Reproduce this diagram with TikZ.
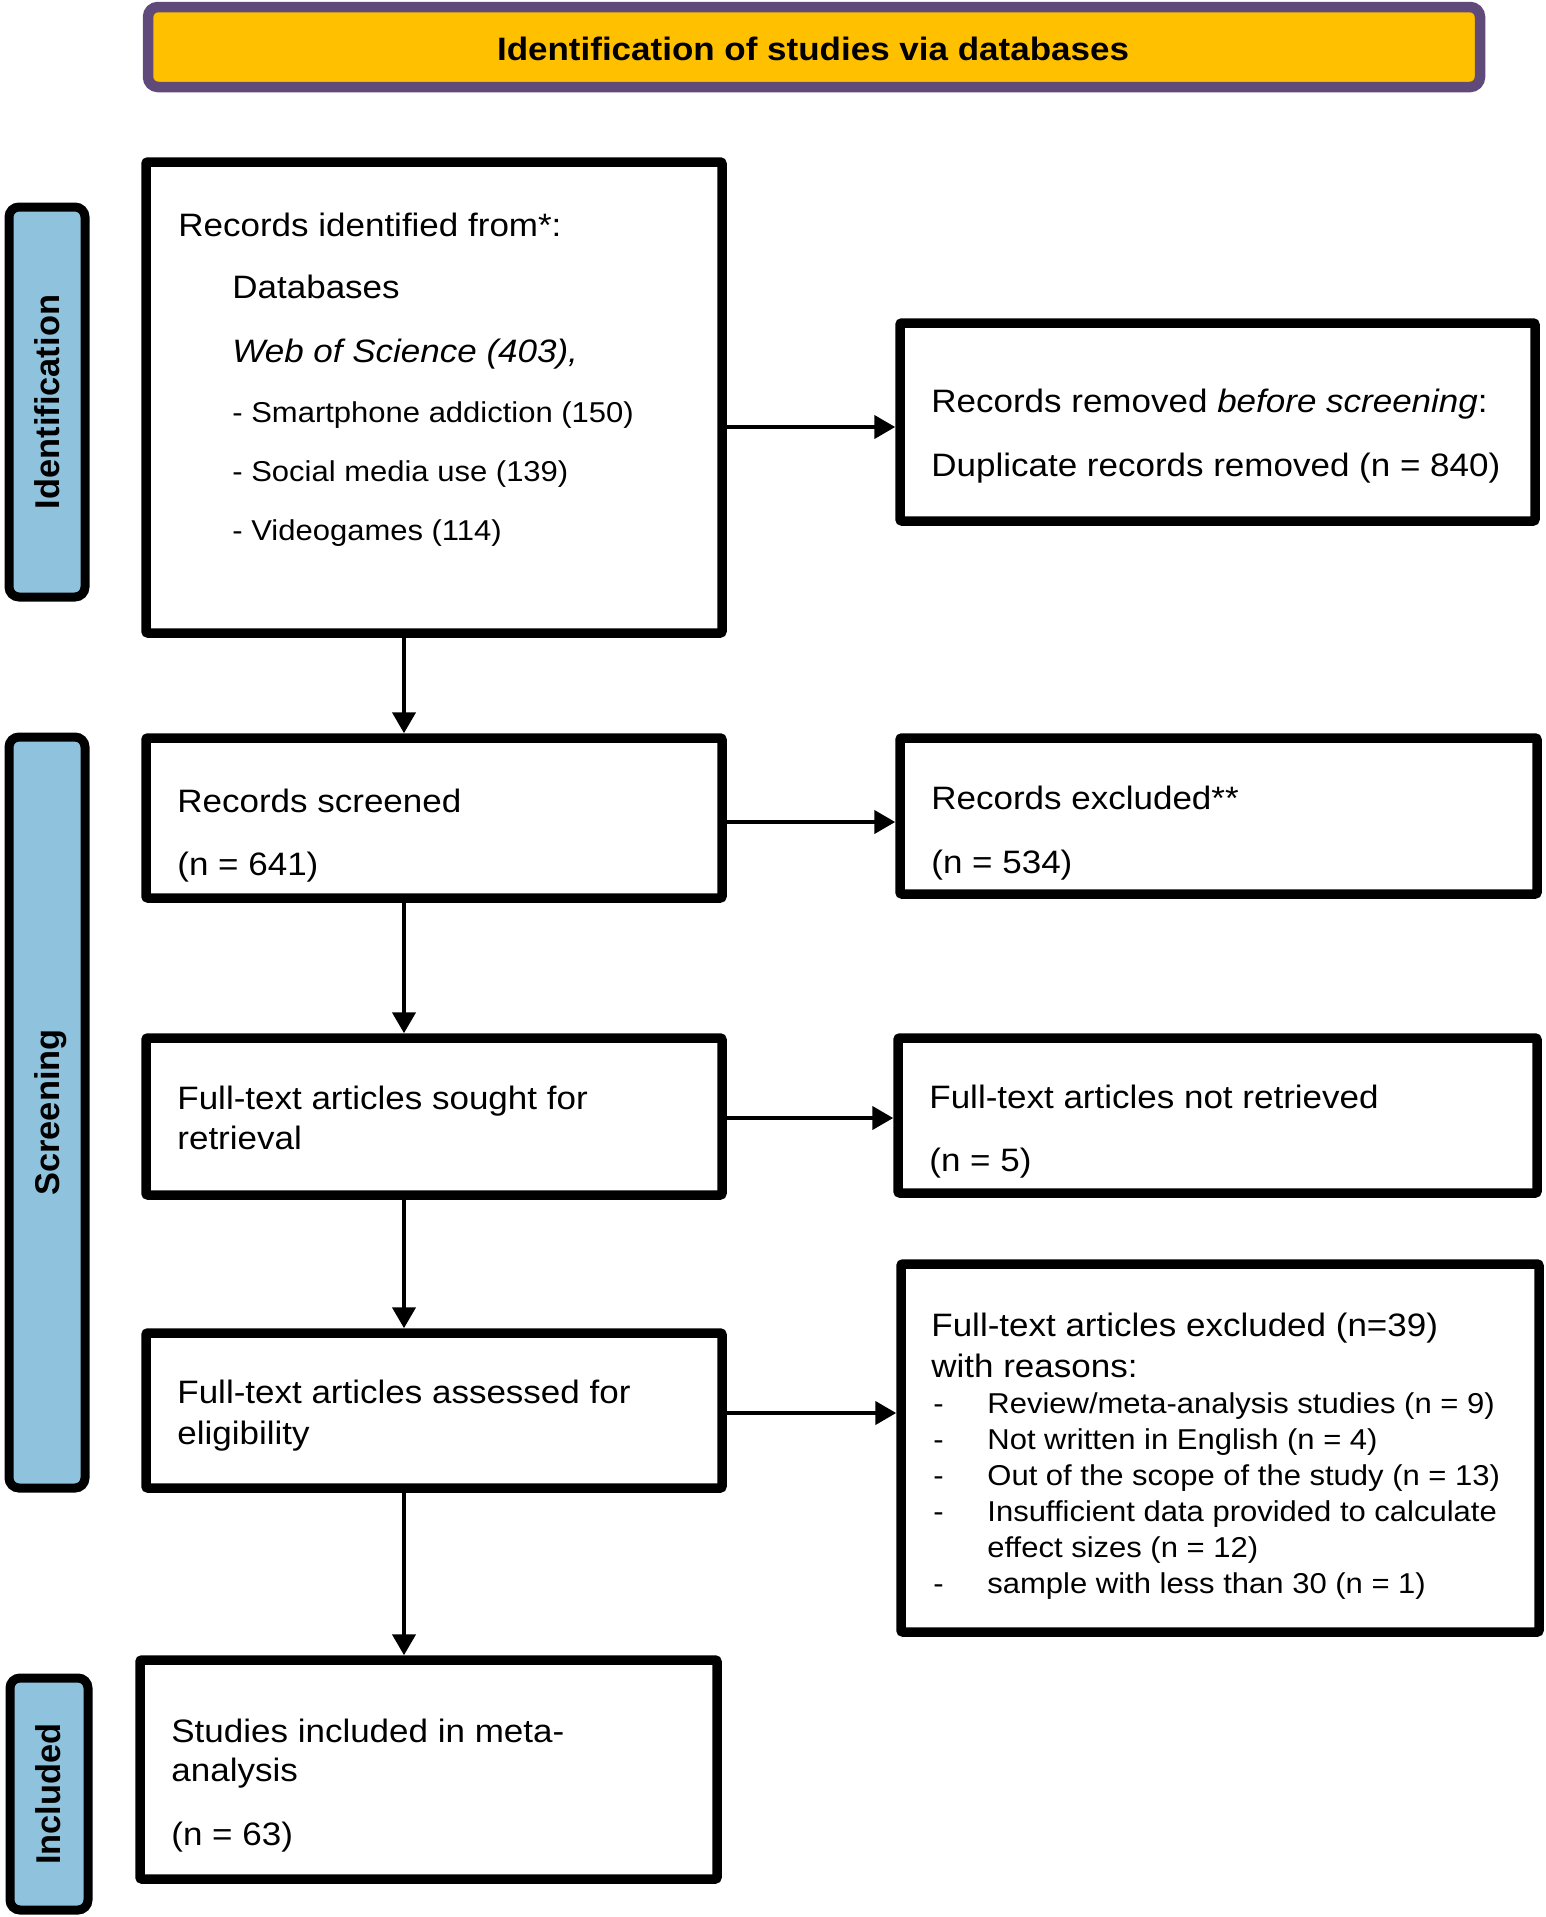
\documentclass[tikz,border=0pt]{standalone}
\usepackage{fontspec}
\setmainfont{Liberation Sans}[FakeStretch=1.08]
\newfontfamily\sidefont{Liberation Sans}
\usetikzlibrary{arrows.meta}
\definecolor{titlefill}{RGB}{255,192,0}
\definecolor{titleborder}{RGB}{95,74,122}
\definecolor{sidefill}{RGB}{143,195,221}
\begin{document}
\begin{tikzpicture}[x=0.5pt,y=-0.5pt,
  box/.style={draw=black, line width=4.75pt, fill=white, rounded corners=1pt, inner sep=0pt},
  sidebox/.style={draw=black, line width=4.5pt, fill=sidefill, rounded corners=5pt, inner sep=0pt},
  titlebox/.style={draw=titleborder, line width=5.25pt, fill=titlefill, rounded corners=5pt, inner sep=0pt},
  txt/.style={anchor=base west, inner sep=0pt, font=\fontsize{16.2pt}{19pt}\selectfont},
  small/.style={anchor=base west, inner sep=0pt, font=\fontsize{14.35pt}{17pt}\selectfont},
  side/.style={anchor=base, rotate=90, inner sep=0pt, font=\sidefont\bfseries\fontsize{17.2pt}{20pt}\selectfont},
  arr/.style={line width=2.15pt, -{Triangle[length=10.5pt,width=11.5pt]}}]
\useasboundingbox (0,0) rectangle (1546,1917);

% title
\node[titlebox, minimum width=666pt, minimum height=40pt] (title) at (814,47) {};
\node[anchor=base, inner sep=0pt, font=\bfseries\fontsize{16.2pt}{19pt}\selectfont] (ttl) at (813,60) {Identification of studies via databases};

% side boxes
\node[sidebox, minimum width=38pt, minimum height=195pt] (sideA) at (47,402) {};
\node[sidebox, minimum width=38pt, minimum height=375.5pt] (sideB) at (47,1112.5) {};
\node[sidebox, minimum width=39pt, minimum height=116pt] (sideC) at (49,1794) {};
\node[side] (labA) at (59,402) {Identification};
\node[side] (labB) at (59,1112.5) {Screening};
\node[side] (labC) at (61,1794) {Included};

% main boxes
\node[box, minimum width=288pt, minimum height=235.5pt] (ident) at (434,397.5) {};
\node[box, minimum width=317.5pt, minimum height=99pt] (removed) at (1217.5,422) {};
\node[box, minimum width=288pt, minimum height=80pt] (screened) at (434,818) {};
\node[box, minimum width=318.5pt, minimum height=78pt] (excluded) at (1218.5,816) {};
\node[box, minimum width=288pt, minimum height=78.5pt] (sought) at (434,1116.5) {};
\node[box, minimum width=319.5pt, minimum height=77.5pt] (notret) at (1217.5,1115.5) {};
\node[box, minimum width=288pt, minimum height=77.5pt] (assessed) at (434,1410.5) {};
\node[box, minimum width=319pt, minimum height=184pt] (reasons) at (1220,1448) {};
\node[box, minimum width=288.5pt, minimum height=109.5pt] (included) at (428.5,1769.5) {};

% texts: identification
\node[txt] (i1) at (178,236) {Records identified from*:};
\node[txt] (i2) at (232,298.5) {Databases};
\node[txt] (i3) at (232,362) {\itshape Web of Science (403),};
\node[small] (i4) at (232,422) {- Smartphone addiction (150)};
\node[small] (i5) at (232,481) {- Social media use (139)};
\node[small] (i6) at (232,540) {- Videogames (114)};

\node[txt] (r1) at (931,412) {Records removed \textit{before screening}:};
\node[txt] (r2) at (931,476) {Duplicate records removed (n = 840)};

\node[txt] (s1) at (177,812) {Records screened};
\node[txt] (s2) at (177,875.5) {(n = 641)};

\node[txt] (e1) at (931,809.5) {Records excluded**};
\node[txt] (e2) at (931,873) {(n = 534)};

\node[txt] (f1) at (177,1109) {Full-text articles sought for};
\node[txt] (f2) at (177,1149) {retrieval};

\node[txt] (n1) at (929,1108) {Full-text articles not retrieved};
\node[txt] (n2) at (929,1171) {(n = 5)};

\node[txt] (a1) at (177,1403.5) {Full-text articles assessed for};
\node[txt] (a2) at (177,1444) {eligibility};

\node[txt] (x1) at (931,1336.5) {Full-text articles excluded (n=39)};
\node[txt] (x2) at (931,1377) {with reasons:};
\node[small] (d1) at (933,1413) {-};
\node[small] (x3) at (987,1413) {Review/meta-analysis studies (n = 9)};
\node[small] (d2) at (933,1449) {-};
\node[small] (x4) at (987,1449) {Not written in English (n = 4)};
\node[small] (d3) at (933,1485) {-};
\node[small] (x5) at (987,1485) {Out of the scope of the study (n = 13)};
\node[small] (d4) at (933,1521) {-};
\node[small] (x6) at (987,1521) {Insufficient data provided to calculate};
\node[small] (x7) at (987,1557) {effect sizes (n = 12)};
\node[small] (d5) at (933,1593) {-};
\node[small] (x8) at (987,1593) {sample with less than 30 (n = 1)};

\node[txt] (c1) at (171,1742) {Studies included in meta-};
\node[txt] (c2) at (171,1781.5) {analysis};
\node[txt] (c3) at (171,1845) {(n = 63)};

% connectors
\coordinate (vx) at (404,0);
\draw[arr] (ident.south -| vx) -- (screened.north -| vx);
\draw[arr] (screened.south -| vx) -- (sought.north -| vx);
\draw[arr] (sought.south -| vx) -- (assessed.north -| vx);
\draw[arr] (assessed.south -| vx) -- (included.north -| vx);
\coordinate (hA) at ([yshift=-2.5pt]removed.west);
\coordinate (hB) at ([yshift=-3pt]excluded.west);
\coordinate (hC) at ([yshift=-1.25pt]notret.west);
\coordinate (hD) at ([yshift=-1.25pt]assessed.east);
\draw[arr] (ident.east |- hA) -- (hA);
\draw[arr] (screened.east |- hB) -- (hB);
\draw[arr] (sought.east |- hC) -- (hC);
\draw[arr] (hD) -- (hD -| reasons.west);
\end{tikzpicture}
\end{document}
